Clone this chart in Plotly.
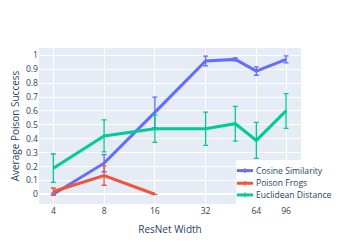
import plotly.graph_objects as go

widths = [4, 8, 16, 32, 48, 64, 96]
cos_y = [0.0, 0.224, 0.59, 0.959, 0.971, 0.887, 0.971]
cos_err = [0.008, 0.062, 0.11, 0.035, 0.01, 0.03, 0.025]
frog_x = [4, 8, 16]
frog_y = [0.02, 0.135, 0.0]
frog_err = [0.025, 0.07, 0.0]
euc_y = [0.188, 0.42, 0.472, 0.472, 0.508, 0.388, 0.6]
euc_err = [0.102, 0.115, 0.098, 0.12, 0.125, 0.13, 0.125]
tick_vals = [4, 8, 16, 32, 64, 96]
y_ticks = [0, 0.1, 0.2, 0.3, 0.4, 0.5, 0.6, 0.7, 0.8, 0.9, 1]
y_tick_text = ["0", "0.1", "0.2", "0.3", "0.4", "0.5", "0.6", "0.7", "0.8", "0.9", "1"]

names = ["Cosine Similarity", "Poison Frogs", "Euclidean Distance"]
colors = ["#636efa", "#EF553B", "#00cc96"]

fig = go.Figure()
for name, x, y, e, c in zip(names, [widths, frog_x, widths], [cos_y, frog_y, euc_y],
                            [cos_err, frog_err, euc_err], colors):
    fig.add_trace(go.Scatter(
        x=x, y=y, name=name, mode="lines", showlegend=False,
        line=dict(color=c, width=3),
        error_y=dict(type="data", array=e, visible=True, color=c, thickness=1.3, width=2.5),
    ))

# legend drawn in paper coordinates (plotly's native legend rows are too tall at this size)
shapes = [dict(type="rect", xref="paper", yref="paper", x0=0.752, x1=1.17, y0=-0.01, y1=0.282,
               fillcolor="white", line=dict(width=0), layer="above")]
annotations = []
row_y = [0.214, 0.133, 0.058]
for name, c, ry in zip(names, colors, row_y):
    shapes.append(dict(type="line", xref="paper", yref="paper", x0=0.755, x1=0.817, y0=ry, y1=ry,
                       line=dict(color=c, width=3), layer="above"))
    shapes.append(dict(type="line", xref="paper", yref="paper", x0=0.786, x1=0.786,
                       y0=ry - 0.015, y1=ry + 0.015, line=dict(color=c, width=1.2), layer="above"))
    annotations.append(dict(xref="paper", yref="paper", x=0.82, y=ry, text=name, showarrow=False,
                            xanchor="left", yanchor="middle", font=dict(size=8.6, color="#2a3f5f")))

# the page body has an 8px margin, so the figure is 8px smaller than the 343x246 window
fig.update_layout(
    template="plotly",
    width=335, height=238,
    margin=dict(l=31, r=42, t=40, b=42),
    font=dict(family="Open Sans", size=8.6, color="#2a3f5f"),
    showlegend=False,
    shapes=shapes,
    annotations=annotations,
    xaxis=dict(type="log", range=[0.517, 2.071], tickvals=tick_vals, automargin=False,
               ticktext=[str(v) for v in tick_vals],
               title=dict(text="ResNet Width", font=dict(size=10), standoff=10)),
    yaxis=dict(range=[-0.07, 1.053], tickvals=y_ticks, ticktext=y_tick_text, automargin=False,
               title=dict(text="Average Poison Success", font=dict(size=10))),
)
fig.write_html("out.html")
